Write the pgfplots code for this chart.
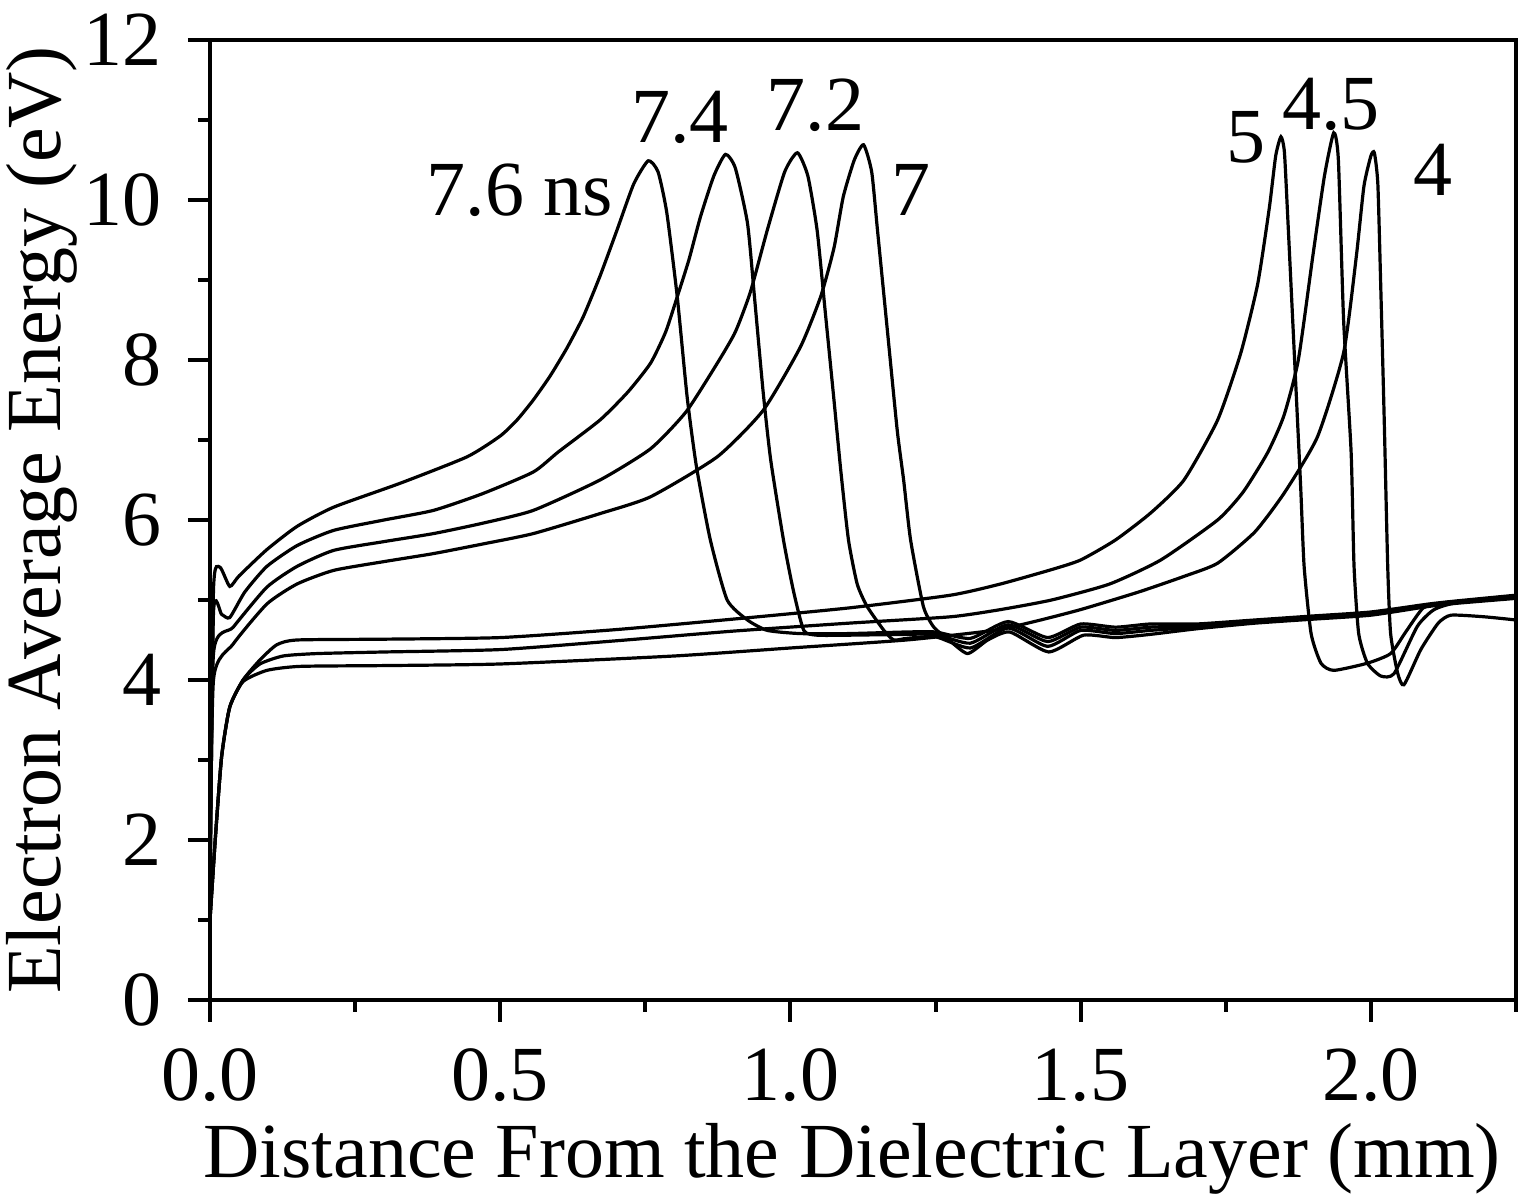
\documentclass[border=0pt]{standalone}
\usepackage{fontspec}
\setmainfont{Liberation Serif}
\usepackage{pgfplots}
\pgfplotsset{compat=1.18}

\begin{document}
\fontsize{19.5}{23}\selectfont
\begin{tikzpicture}
\path[use as bounding box] (-52.5pt,-49.25pt) rectangle (328.75pt,250pt);
\begin{axis}[
  at={(0pt,0pt)}, anchor=origin,
  scale only axis, width=326.5pt, height=240pt,
  xmin=0, xmax=2.25, ymin=0, ymax=12,
  axis lines=box,
  xtick={0,0.5,1,1.5,2}, ytick={0,2,4,6,8,10,12},
  minor xtick={0.25,0.75,1.25,1.75,2.25},
  minor ytick={1,3,5,7,9,11},
  tick pos=left, tick align=outside,
  major tick length=5.5pt, minor tick length=3pt,
  every tick/.style={black, line width=1pt},
  axis line style={line width=1pt},
  xticklabel style={/pgf/number format/.cd, fixed, fixed zerofill, precision=1, assume math mode=true},
  yticklabel style={/pgf/number format/assume math mode=true},
  xlabel={Distance From the Dielectric Layer (mm)},
  ylabel={Electron Average Energy (eV)},
  every axis x label/.style={at={(axis description cs:0.4916,-0.165)}, anchor=center},
  every axis y label/.style={at={(axis description cs:-0.1286,0.5)}, rotate=90, anchor=center},
  clip=false,
  curve/.style={black, solid, line width=0.8pt, mark=none, smooth, tension=0.35},
]
% 5 ns
\addplot[curve] coordinates {(0,1.0) (0.009,2.0) (0.02,3.04) (0.034,3.66) (0.057,4.0) (0.086,4.25) (0.115,4.44) (0.15,4.5) (0.3,4.51) (0.5,4.53) (0.7,4.63) (0.9,4.76) (1.1,4.9) (1.276,5.06) (1.362,5.2) (1.45,5.38) (1.5,5.5) (1.56,5.75) (1.621,6.09) (1.678,6.5) (1.736,7.25) (1.776,8.09) (1.805,8.95) (1.825,9.9) (1.836,10.55) (1.845,10.79) (1.851,10.6) (1.857,9.75) (1.868,8.09) (1.879,6.42) (1.885,5.42) (1.897,4.58) (1.914,4.21) (1.936,4.12) (1.994,4.21) (2.034,4.33) (2.06,4.6) (2.09,4.9) (2.12,4.96) (2.18,5.0) (2.25,5.05)};
% 4.5 ns
\addplot[curve] coordinates {(0,1.0) (0.009,2.0) (0.02,3.04) (0.034,3.66) (0.057,4.0) (0.086,4.2) (0.126,4.3) (0.184,4.33) (0.3,4.35) (0.5,4.38) (0.7,4.49) (0.9,4.61) (1.1,4.71) (1.276,4.79) (1.362,4.88) (1.45,5.0) (1.55,5.2) (1.638,5.5) (1.736,6.0) (1.78,6.35) (1.822,6.84) (1.85,7.3) (1.875,8.0) (1.9,9.3) (1.92,10.3) (1.936,10.84) (1.944,10.5) (1.953,8.5) (1.966,6.84) (1.971,5.42) (1.979,4.58) (1.994,4.21) (2.017,4.05) (2.04,4.08) (2.08,4.67) (2.109,4.88) (2.15,4.97) (2.25,5.03)};
% 4 ns
\addplot[curve] coordinates {(0,1.0) (0.009,2.0) (0.02,3.04) (0.034,3.66) (0.057,3.98) (0.098,4.12) (0.155,4.17) (0.3,4.18) (0.5,4.2) (0.8,4.3) (1.0,4.4) (1.2,4.5) (1.35,4.62) (1.42,4.73) (1.5,4.88) (1.6,5.1) (1.68,5.3) (1.736,5.46) (1.8,5.85) (1.851,6.34) (1.908,7.04) (1.953,8.09) (1.975,9.3) (1.988,10.17) (2.0,10.55) (2.006,10.59) (2.012,10.2) (2.017,8.92) (2.023,7.25) (2.029,5.42) (2.034,4.58) (2.046,4.09) (2.057,3.94) (2.086,4.38) (2.116,4.71) (2.138,4.81) (2.195,4.79) (2.25,4.75)};
% 7.6 ns
\addplot[curve] coordinates {(0,1.2) (0.006,5.12) (0.017,5.41) (0.034,5.17) (0.05,5.3) (0.098,5.63) (0.15,5.92) (0.213,6.16) (0.328,6.46) (0.443,6.79) (0.5,7.05) (0.529,7.25) (0.557,7.5) (0.586,7.8) (0.615,8.15) (0.643,8.54) (0.672,9.05) (0.701,9.62) (0.73,10.2) (0.755,10.49) (0.772,10.35) (0.787,9.84) (0.805,8.79) (0.822,7.54) (0.838,6.67) (0.862,5.75) (0.891,5.0) (0.926,4.75) (0.96,4.62) (1.017,4.58) (1.1,4.58) (1.2,4.6) (1.25,4.6) (1.31,4.52) (1.375,4.73) (1.443,4.53) (1.5,4.7) (1.56,4.66) (1.62,4.7) (1.7,4.7) (1.8,4.75) (1.9,4.8) (2.0,4.85) (2.1,4.95) (2.15,4.99) (2.25,5.06)};
% 7.4 ns
\addplot[curve] coordinates {(0,1.2) (0.006,4.84) (0.02,4.82) (0.034,4.78) (0.06,5.1) (0.098,5.42) (0.15,5.68) (0.213,5.87) (0.3,6.0) (0.385,6.12) (0.47,6.33) (0.557,6.6) (0.6,6.85) (0.672,7.25) (0.72,7.6) (0.759,7.96) (0.785,8.35) (0.805,8.79) (0.825,9.25) (0.845,9.79) (0.868,10.3) (0.888,10.57) (0.905,10.4) (0.926,9.71) (0.938,8.79) (0.953,7.6) (0.966,6.75) (0.988,5.75) (1.005,5.12) (1.023,4.62) (1.046,4.56) (1.1,4.56) (1.2,4.57) (1.25,4.57) (1.31,4.46) (1.375,4.69) (1.443,4.48) (1.5,4.66) (1.56,4.62) (1.62,4.66) (1.7,4.68) (1.8,4.73) (1.9,4.78) (2.0,4.83) (2.1,4.94) (2.15,4.98) (2.25,5.04)};
% 7.2 ns
\addplot[curve] coordinates {(0,1.2) (0.006,4.33) (0.04,4.66) (0.098,5.16) (0.15,5.42) (0.213,5.62) (0.3,5.73) (0.385,5.83) (0.47,5.96) (0.557,6.12) (0.672,6.5) (0.759,6.89) (0.82,7.35) (0.874,7.96) (0.905,8.35) (0.931,8.85) (0.96,9.62) (0.99,10.35) (1.012,10.59) (1.03,10.3) (1.046,9.62) (1.06,8.6) (1.075,7.5) (1.087,6.6) (1.1,5.75) (1.115,5.2) (1.132,4.92) (1.161,4.62) (1.178,4.5) (1.2,4.52) (1.25,4.54) (1.31,4.4) (1.375,4.65) (1.443,4.42) (1.5,4.62) (1.56,4.58) (1.62,4.62) (1.7,4.66) (1.8,4.72) (1.9,4.77) (2.0,4.82) (2.1,4.93) (2.15,4.97) (2.25,5.03)};
% 7.0 ns
\addplot[curve] coordinates {(0,1.2) (0.006,4.0) (0.04,4.45) (0.098,4.95) (0.15,5.2) (0.213,5.37) (0.3,5.48) (0.385,5.58) (0.47,5.7) (0.557,5.83) (0.672,6.08) (0.759,6.29) (0.874,6.79) (0.953,7.37) (1.017,8.16) (1.052,8.79) (1.075,9.4) (1.091,10.04) (1.11,10.5) (1.126,10.69) (1.14,10.35) (1.15,9.62) (1.167,8.37) (1.184,7.12) (1.195,6.5) (1.207,5.75) (1.229,4.92) (1.247,4.66) (1.27,4.52) (1.305,4.33) (1.34,4.5) (1.378,4.6) (1.445,4.35) (1.505,4.56) (1.56,4.53) (1.62,4.57) (1.7,4.64) (1.8,4.71) (1.9,4.76) (2.0,4.81) (2.1,4.92) (2.15,4.96) (2.25,5.02)};
\draw[black, line width=1pt, line cap=rect] (rel axis cs:0,1) -- (rel axis cs:1,1) -- (rel axis cs:1,0);
\node at (axis cs:0.534,10.125) {7.6 ns};
\node at (axis cs:0.810,11.03) {7.4};
\node at (axis cs:1.043,11.19) {7.2};
\node at (axis cs:1.207,10.13) {7};
\node at (axis cs:1.784,10.78) {5};
\node at (axis cs:1.931,11.19) {4.5};
\node at (axis cs:2.107,10.38) {4};
\end{axis}
\end{tikzpicture}
\end{document}
